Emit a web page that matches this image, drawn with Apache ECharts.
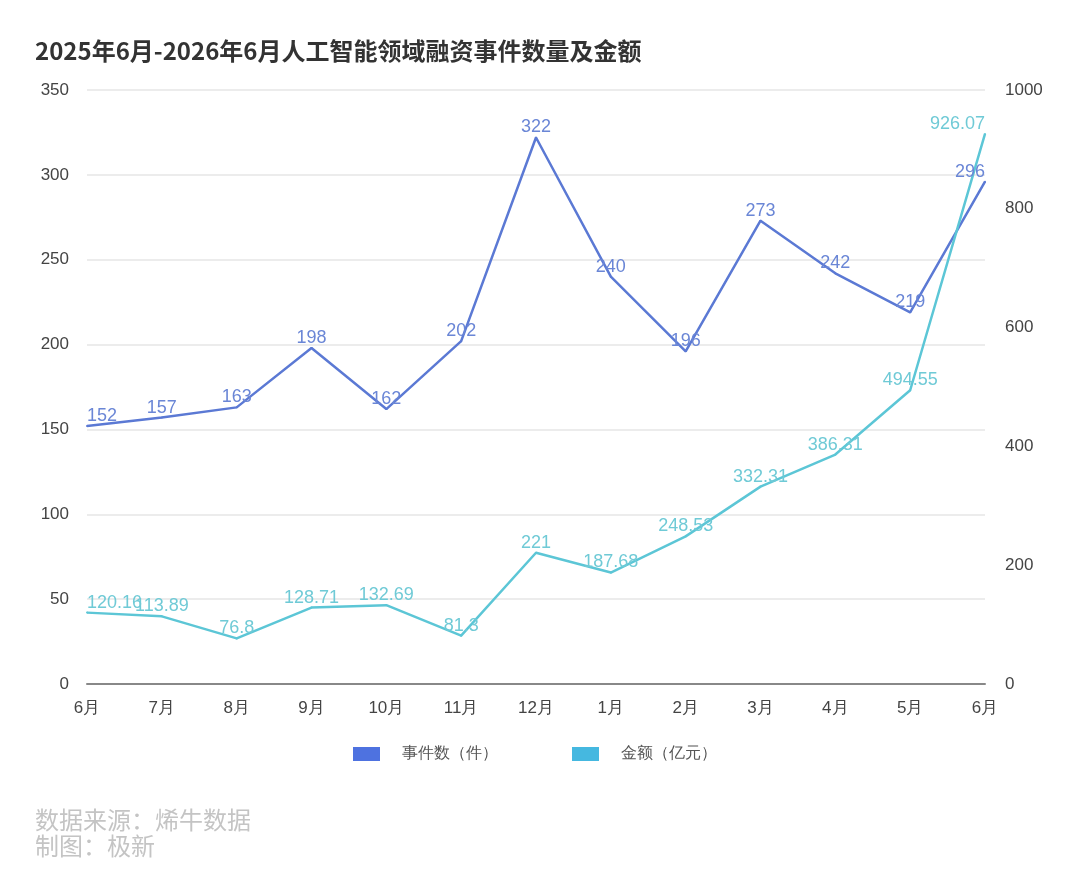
<!DOCTYPE html>
<html>
<head>
<meta charset="utf-8">
<script src="https://cdn.jsdelivr.net/npm/echarts@6/dist/echarts.min.js"></script>
<style>
  html, body { margin: 0; padding: 0; background: #fff; }
  #main { width: 1080px; height: 881px; }
</style>
</head>
<body>
<div id="main"></div>
<script>
var months = ['6月', '7月', '8月', '9月', '10月', '11月', '12月', '1月', '2月', '3月', '4月', '5月', '6月'];
var eventCount = [152, 157, 163, 198, 162, 202, 322, 240, 196, 273, 242, 219, 296];
var amount = [120.16, 113.89, 76.8, 128.71, 132.69, 81.3, 221, 187.68, 248.53, 332.31, 386.31, 494.55, 926.07];

// 首尾标签贴着绘图区内侧对齐
function edgeAligned(values) {
    return values.map(function (v, i) {
        if (i === 0) return { value: v, label: { align: 'left' } };
        if (i === values.length - 1) return { value: v, label: { align: 'right' } };
        return v;
    });
}

var myChart = echarts.init(document.getElementById('main'));

var option = {
    backgroundColor: '#fff',
    title: [
        {
            text: '2025年6月-2026年6月人工智能领域融资事件数量及金额',
            left: 30, top: 34,
            textStyle: { fontSize: 24, fontWeight: 'bold', color: '#333', fontFamily: 'Noto Sans CJK SC' }
        },
        {
            text: '数据来源：烯牛数据\n制图：极新',
            left: 30, top: 802,
            textStyle: { fontSize: 24, fontWeight: 'normal', color: '#c4c4c4', lineHeight: 26, fontFamily: 'Noto Sans CJK SC' }
        }
    ],
    legend: {
        bottom: 114,
        left: 348,
        itemWidth: 27,
        itemHeight: 14,
        itemGap: 74,
        icon: 'rect',
        textStyle: { fontSize: 16, color: '#555', padding: [0, 0, 0, 17] },
        data: [
            { name: '事件数（件）', itemStyle: { color: '#4e72e0' } },
            { name: '金额（亿元）', itemStyle: { color: '#45b8e0' } }
        ]
    },
    grid: { left: 87, right: 95, top: 90, bottom: 197 },
    xAxis: {
        type: 'category',
        boundaryGap: false,
        data: months,
        axisLine: { lineStyle: { color: '#888', width: 2 } },
        axisTick: { show: false },
        axisLabel: { fontSize: 17, color: '#444', margin: 16 }
    },
    yAxis: [
        {
            type: 'value',
            min: 0, max: 350, interval: 50,
            axisLine: { show: false },
            axisTick: { show: false },
            axisLabel: { fontSize: 17, color: '#444', margin: 18 },
            splitLine: { lineStyle: { color: '#e6e6e6', width: 1.5 } }
        },
        {
            type: 'value',
            min: 0, max: 1000, interval: 200,
            axisLine: { show: false },
            axisTick: { show: false },
            axisLabel: {
                fontSize: 17, color: '#444', margin: 20,
                formatter: function (v) { return String(v); }
            },
            splitLine: { show: false }
        }
    ],
    series: [
        {
            name: '事件数（件）',
            type: 'line',
            yAxisIndex: 0,
            data: edgeAligned(eventCount),
            showSymbol: true,
            symbol: 'circle',
            symbolSize: 2,
            itemStyle: { color: '#5b79d4' },
            lineStyle: { color: '#5b79d4', width: 2.5 },
            label: { show: true, position: 'top', fontSize: 18, color: '#6a86d6', distance: 0 }
        },
        {
            name: '金额（亿元）',
            type: 'line',
            yAxisIndex: 1,
            data: edgeAligned(amount),
            showSymbol: true,
            symbol: 'circle',
            symbolSize: 2,
            itemStyle: { color: '#5cc6d6' },
            lineStyle: { color: '#5cc6d6', width: 2.5 },
            label: { show: true, position: 'top', fontSize: 18, color: '#6fcad6', distance: 0 }
        }
    ]
};

myChart.setOption(option);
</script>
</body>
</html>
